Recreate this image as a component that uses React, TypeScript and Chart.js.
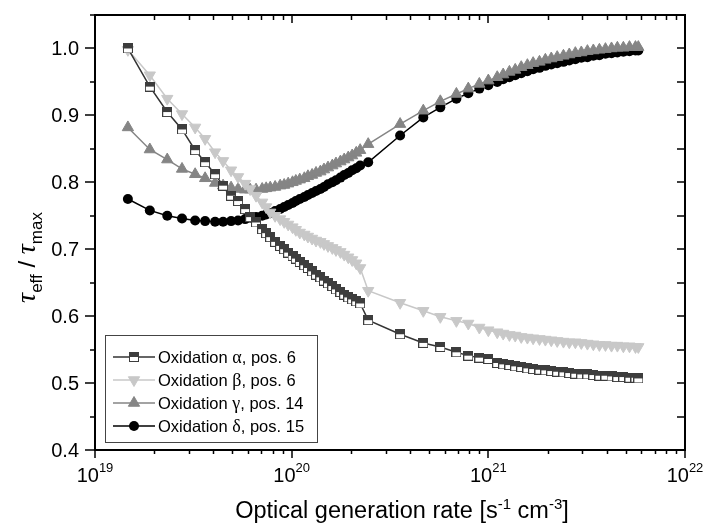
import React, { useEffect, useRef } from 'react';
import { Chart, registerables } from 'chart.js';

Chart.register(...registerables);

const SANS = '"Liberation Sans", Arial, Helvetica, sans-serif';
const SERIF = '"Liberation Serif", "Times New Roman", serif';

// Optical generation rate [s^-1 cm^-3]
const generationRate = [
  1.47e19, 1.9e19, 2.33e19, 2.77e19, 3.23e19, 3.63e19, 4.08e19, 4.48e19, 4.92e19, 5.34e19, 5.8e19,
  6.15e19, 6.59e19, 7.08e19, 7.42e19, 7.78e19, 8.24e19, 8.74e19, 9.16e19, 9.6e19,
  1.01e20, 1.05e20, 1.1e20, 1.16e20, 1.21e20, 1.27e20, 1.33e20, 1.4e20, 1.46e20, 1.53e20, 1.61e20,
  1.68e20, 1.77e20, 1.85e20, 1.94e20, 2.03e20, 2.13e20, 2.23e20,
  2.45e20, 3.56e20, 4.67e20, 5.7e20, 6.88e20, 7.91e20, 9.0e20,
  1.0e21, 1.11e21, 1.19e21, 1.28e21, 1.37e21, 1.47e21, 1.58e21, 1.69e21, 1.82e21, 1.95e21, 2.09e21,
  2.24e21, 2.41e21, 2.58e21, 2.77e21, 2.97e21, 3.19e21, 3.42e21, 3.67e21, 3.94e21, 4.23e21, 4.53e21,
  4.86e21, 5.22e21, 5.6e21, 5.79e21,
];

const tauAlpha = [
  1.0, 0.943, 0.905, 0.879, 0.848, 0.83, 0.812, 0.795, 0.78, 0.772, 0.76,
  0.748, 0.74, 0.73, 0.724, 0.718, 0.711, 0.705, 0.7, 0.695,
  0.69, 0.686, 0.681, 0.676, 0.672, 0.667, 0.662, 0.658, 0.653, 0.649, 0.645, 0.64, 0.636, 0.632, 0.628, 0.625, 0.622, 0.619,
  0.594, 0.573, 0.56, 0.554, 0.546, 0.541, 0.538,
  0.536, 0.53, 0.528, 0.527, 0.525, 0.524, 0.522, 0.521, 0.52, 0.519, 0.518, 0.517, 0.516, 0.515, 0.514, 0.513, 0.513,
  0.512, 0.511, 0.511, 0.51, 0.509, 0.509, 0.508, 0.508, 0.507,
];

const tauBeta = [
  0.998, 0.96, 0.925, 0.902, 0.882, 0.865, 0.845, 0.832, 0.818, 0.808, 0.798,
  0.79, 0.78, 0.77, 0.763, 0.755, 0.75, 0.745, 0.741, 0.737,
  0.733, 0.729, 0.725, 0.722, 0.719, 0.716, 0.713, 0.711, 0.708, 0.705, 0.702, 0.699, 0.696, 0.692, 0.688, 0.684, 0.679, 0.672,
  0.638, 0.62, 0.608, 0.599, 0.593, 0.589, 0.583,
  0.579, 0.576, 0.574, 0.572, 0.571, 0.569, 0.568, 0.567, 0.566, 0.565, 0.564, 0.563, 0.562, 0.561, 0.561, 0.56, 0.559,
  0.558, 0.557, 0.557, 0.556, 0.556, 0.555, 0.555, 0.554, 0.554,
];

const tauGamma = [
  0.882, 0.849, 0.834, 0.82, 0.812, 0.806, 0.799, 0.795, 0.792, 0.79, 0.789,
  0.789, 0.789, 0.79, 0.791, 0.792, 0.793, 0.795, 0.796, 0.798,
  0.8, 0.802, 0.804, 0.806, 0.809, 0.811, 0.814, 0.816, 0.819, 0.822, 0.825, 0.828, 0.831, 0.834, 0.837, 0.84, 0.844, 0.848,
  0.857, 0.887, 0.907, 0.921, 0.932, 0.94, 0.947,
  0.952, 0.957, 0.961, 0.965, 0.968, 0.972, 0.975, 0.978, 0.98, 0.983, 0.985, 0.987, 0.989, 0.991, 0.993, 0.994, 0.996,
  0.997, 0.998, 0.999, 1.0, 1.001, 1.001, 1.002, 1.002, 1.002,
];

const tauDelta = [
  0.775, 0.758, 0.75, 0.746, 0.743, 0.742, 0.741, 0.741, 0.742, 0.743, 0.745,
  0.747, 0.748, 0.75, 0.752, 0.754, 0.757, 0.76, 0.763, 0.766,
  0.769, 0.772, 0.775, 0.778, 0.781, 0.784, 0.787, 0.79, 0.793, 0.797, 0.8, 0.803, 0.807, 0.811, 0.814, 0.818, 0.821, 0.825,
  0.83, 0.87, 0.897, 0.912, 0.925, 0.933, 0.94,
  0.945, 0.95, 0.954, 0.957, 0.96, 0.963, 0.966, 0.969, 0.971, 0.974, 0.976, 0.978, 0.98, 0.982, 0.984, 0.986, 0.987,
  0.989, 0.99, 0.992, 0.993, 0.994, 0.995, 0.996, 0.997, 0.997,
];

const seriesLabels = [
  'Oxidation α, pos. 6',
  'Oxidation β, pos. 6',
  'Oxidation γ, pos. 14',
  'Oxidation δ, pos. 15',
];

const xTickExponents = [19, 20, 21, 22];
const yTickValues = [0.4, 0.5, 0.6, 0.7, 0.8, 0.9, 1.0];
const yMinorValues = [0.45, 0.55, 0.65, 0.75, 0.85, 0.95, 1.05];
const xTitleParts = [
  { t: 'Optical generation rate [s', sup: false },
  { t: '-1', sup: true },
  { t: ' cm', sup: false },
  { t: '-3', sup: true },
  { t: ']', sup: false },
];

function makeHalfSquare(): HTMLCanvasElement {
  const c = document.createElement('canvas');
  c.width = 10;
  c.height = 10;
  const g = c.getContext('2d')!;
  g.fillStyle = '#ffffff';
  g.fillRect(0, 0, 10, 10);
  g.fillStyle = '#3d3d3d';
  g.fillRect(0, 0, 10, 5);
  g.strokeStyle = '#3d3d3d';
  g.lineWidth = 1;
  g.strokeRect(0.5, 0.5, 9, 9);
  return c;
}

function drawMarker(ctx: CanvasRenderingContext2D, kind: string, x: number, y: number, color: string, img: HTMLCanvasElement) {
  ctx.save();
  ctx.fillStyle = color;
  ctx.strokeStyle = color;
  ctx.lineWidth = 1;
  if (kind === 'square') {
    ctx.drawImage(img, Math.round(x - 5), Math.round(y - 5));
  } else if (kind === 'down' || kind === 'up') {
    const r = 6.5;
    const s = kind === 'up' ? 1 : -1;
    ctx.beginPath();
    ctx.moveTo(x, y - s * r);
    ctx.lineTo(x + r * Math.sin((2 * Math.PI) / 3), y + s * r * 0.5);
    ctx.lineTo(x - r * Math.sin((2 * Math.PI) / 3), y + s * r * 0.5);
    ctx.closePath();
    ctx.fill();
    ctx.stroke();
  } else {
    ctx.beginPath();
    ctx.arc(x, y, 5, 0, Math.PI * 2);
    ctx.fill();
  }
  ctx.restore();
}

export default function App() {
  const ref = useRef<HTMLCanvasElement | null>(null);

  useEffect(() => {
    if (!ref.current) return;
    const square = makeHalfSquare();
    const markerKinds = ['square', 'down', 'up', 'circle'];
    const mk = (ys: number[]) => generationRate.map((x, i) => ({ x, y: ys[i] }));

    const framePlugin = {
      id: 'framePlugin',
      afterDatasetsDraw(chart: any) {
        const ctx: CanvasRenderingContext2D = chart.ctx;
        const xs = chart.scales.x;
        const ys = chart.scales.y;
        const { left, right, top, bottom } = chart.chartArea;
        ctx.save();
        ctx.strokeStyle = '#000';
        ctx.lineWidth = 2;
        ctx.strokeRect(left, top, right - left, bottom - top);

        ctx.lineWidth = 1.5;
        ctx.beginPath();
        xTickExponents.forEach((e) => {
          const px = Math.round(xs.getPixelForValue(Math.pow(10, e)));
          ctx.moveTo(px, bottom);
          ctx.lineTo(px, bottom + 8);
          ctx.moveTo(px, top);
          ctx.lineTo(px, top + 8);
        });
        for (let e = 19; e < 22; e++) {
          for (let m = 2; m <= 9; m++) {
            const px = Math.round(xs.getPixelForValue(m * Math.pow(10, e))) + 0.5;
            ctx.moveTo(px, bottom);
            ctx.lineTo(px, bottom + 4);
            ctx.moveTo(px, top);
            ctx.lineTo(px, top + 5);
          }
        }
        yTickValues.forEach((v) => {
          const py = Math.round(ys.getPixelForValue(v));
          ctx.moveTo(left - 10, py);
          ctx.lineTo(left, py);
          ctx.moveTo(right, py);
          ctx.lineTo(right - 8, py);
        });
        yMinorValues.forEach((v) => {
          const py = Math.round(ys.getPixelForValue(v));
          ctx.moveTo(left - 5, py);
          ctx.lineTo(left, py);
          ctx.moveTo(right, py);
          ctx.lineTo(right - 8, py);
        });
        ctx.stroke();

        // y tick labels
        ctx.fillStyle = '#000';
        ctx.font = `20px ${SANS}`;
        ctx.textAlign = 'right';
        ctx.textBaseline = 'middle';
        yTickValues.forEach((v) => {
          const py = ys.getPixelForValue(v);
          ctx.fillText(v.toFixed(1), left - 16, py + 1);
        });

        // x tick labels with superscript exponent
        ctx.textAlign = 'left';
        ctx.textBaseline = 'alphabetic';
        xTickExponents.forEach((e) => {
          const px = xs.getPixelForValue(Math.pow(10, e));
          ctx.font = `20px ${SANS}`;
          const wBase = ctx.measureText('10').width;
          ctx.font = `13px ${SANS}`;
          const wSup = ctx.measureText(String(e)).width;
          const x0 = px - (wBase + wSup) / 2;
          ctx.font = `20px ${SANS}`;
          ctx.fillText('10', x0, bottom + 32);
          ctx.font = `13px ${SANS}`;
          ctx.fillText(String(e), x0 + wBase, bottom + 22);
        });

        // x axis title
        let total = 0;
        xTitleParts.forEach((p) => {
          ctx.font = p.sup ? `15px ${SANS}` : `23.5px ${SANS}`;
          total += ctx.measureText(p.t).width;
        });
        let cx = (left + right) / 2 + 12 - total / 2;
        xTitleParts.forEach((p) => {
          ctx.font = p.sup ? `15px ${SANS}` : `23.5px ${SANS}`;
          ctx.fillText(p.t, cx, bottom + (p.sup ? 59 : 68));
          cx += ctx.measureText(p.t).width;
        });

        // y axis title (rotated)
        ctx.save();
        ctx.translate(35, (top + bottom) / 2 + 25);
        ctx.rotate(-Math.PI / 2);
        const yParts = [
          { t: 'τ', f: `italic 28px ${SERIF}`, dy: 0 },
          { t: 'eff', f: `17px ${SANS}`, dy: 7 },
          { t: ' / ', f: `24px ${SANS}`, dy: 0 },
          { t: 'τ', f: `italic 28px ${SERIF}`, dy: 0 },
          { t: 'max', f: `17px ${SANS}`, dy: 7 },
        ];
        let tw = 0;
        yParts.forEach((p) => {
          ctx.font = p.f;
          tw += ctx.measureText(p.t).width;
        });
        let tx = -tw / 2;
        yParts.forEach((p) => {
          ctx.font = p.f;
          ctx.fillText(p.t, tx, p.dy);
          tx += ctx.measureText(p.t).width;
        });
        ctx.restore();

        // legend
        const bx = left + 10;
        const by = 335;
        const bw = 212;
        const bh = 107;
        ctx.fillStyle = '#fff';
        ctx.fillRect(bx, by, bw, bh);
        ctx.strokeStyle = '#444';
        ctx.lineWidth = 1;
        ctx.strokeRect(bx + 0.5, by + 0.5, bw, bh);
        chart.data.datasets.forEach((ds: any, i: number) => {
          const cy = by + 22 + i * 23;
          ctx.strokeStyle = ds.borderColor;
          ctx.lineWidth = 1.5;
          ctx.beginPath();
          ctx.moveTo(bx + 8, cy);
          ctx.lineTo(bx + 50, cy);
          ctx.stroke();
          drawMarker(ctx, markerKinds[i], bx + 29, cy, ds.pointBackgroundColor, square);
          let lx = bx + 53;
          ctx.fillStyle = '#000';
          const segs = String(ds.label).split(/([α-ω])/);
          segs.forEach((s: string) => {
            if (!s) return;
            const greek = /^[α-ω]$/.test(s);
            ctx.font = greek ? `18px ${SERIF}` : `16.5px ${SANS}`;
            ctx.fillText(s, lx, cy + 6);
            lx += ctx.measureText(s).width;
          });
        });
        ctx.restore();
      },
    };

    const chart = new Chart(ref.current, {
      type: 'line',
      data: {
        datasets: [
          {
            label: seriesLabels[0],
            data: mk(tauAlpha),
            borderColor: '#333333',
            borderWidth: 1.5,
            pointStyle: square as any,
            pointBackgroundColor: '#3d3d3d',
            pointBorderColor: '#3d3d3d',
            pointRadius: 5,
          },
          {
            label: seriesLabels[1],
            data: mk(tauBeta),
            borderColor: '#c8c8c8',
            borderWidth: 1.5,
            pointStyle: 'triangle',
            pointRotation: 180,
            pointBackgroundColor: '#c8c8c8',
            pointBorderColor: '#c8c8c8',
            pointBorderWidth: 1,
            pointRadius: 6.5,
          },
          {
            label: seriesLabels[2],
            data: mk(tauGamma),
            borderColor: '#858585',
            borderWidth: 1.5,
            pointStyle: 'triangle',
            pointBackgroundColor: '#858585',
            pointBorderColor: '#858585',
            pointBorderWidth: 1,
            pointRadius: 6.5,
          },
          {
            label: seriesLabels[3],
            data: mk(tauDelta),
            borderColor: '#000000',
            borderWidth: 1.5,
            pointStyle: 'circle',
            pointBackgroundColor: '#000000',
            pointBorderColor: '#000000',
            pointBorderWidth: 0,
            pointRadius: 5,
          },
        ],
      },
      options: {
        animation: false,
        responsive: false,
        devicePixelRatio: 1,
        layout: { padding: { left: 95, right: 20, top: 15, bottom: 82 } },
        scales: {
          x: { type: 'logarithmic', min: 1e19, max: 1e22, display: false },
          y: { type: 'linear', min: 0.4, max: 1.05, display: false },
        },
        plugins: { legend: { display: false }, tooltip: { enabled: false } },
        elements: { line: { tension: 0 } },
      },
      plugins: [framePlugin],
    } as any);
    return () => chart.destroy();
  }, []);

  return (
    <div style={{ position: 'absolute', left: 0, top: 0, width: 705, height: 532, background: '#fff' }}>
      <canvas ref={ref} width={705} height={532} style={{ display: 'block', width: 705, height: 532 }} />
    </div>
  );
}
